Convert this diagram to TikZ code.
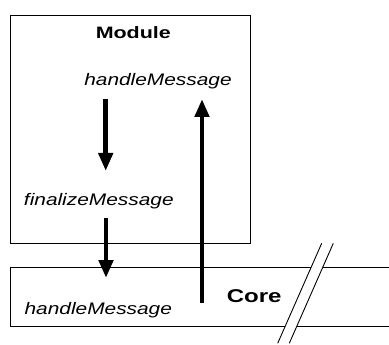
\documentclass[tikz,border=0pt]{standalone}
\usepackage{fontspec}
\setmainfont{Liberation Sans}
\usepackage{graphicx}
\usetikzlibrary{arrows.meta}
\begin{document}
\begin{tikzpicture}[x=1pt,y=-1pt,
  frame/.style={draw=black,line width=1pt},
  txt/.style={inner sep=0pt,anchor=base},
  method/.style={txt,font=\fontsize{16.7}{19}\selectfont\itshape},
  flow/.style={line width=4.7pt,-{Triangle[width=14pt,length=18pt]}},
  cutline/.style={line width=0.9pt},
]
\useasboundingbox (0,0) rectangle (389,345);

% Module box
\node[frame, minimum width=240pt, minimum height=228pt, anchor=north west, inner sep=0pt] (module) at (10,15) {};

% Core box, open to the right
\draw[frame] (393,267.7) -- (10,267.7) -- (10,326.7) -- (393,326.7);

% break mark across the core box
\coordinate (c1a) at (321.7,243.3);
\coordinate (c1b) at (277.7,343.3);
\coordinate (c2a) at (333.3,243.3);
\coordinate (c2b) at (289.3,343.3);
\fill[white] (313.5,262) -- (325.1,262) -- (294.3,332) -- (282.7,332) -- cycle;
\draw[cutline] (c1a) -- (c1b);
\draw[cutline] (c2a) -- (c2b);

% labels
\node[txt,font=\fontsize{16.5}{19}\selectfont\bfseries] (modtitle) at (133.3,38.3) {\scalebox{1.3}[1]{Module}};
\node[method] (hmtop) at (158,86) {\scalebox{1.25}[1]{handleMessage}};
\node[method] (fin) at (98.8,206) {\scalebox{1.25}[1]{finalizeMessage}};
\node[method] (hmcore) at (98.3,314) {\scalebox{1.25}[1]{handleMessage}};
\node[txt,font=\fontsize{18.5}{21}\selectfont\bfseries] (core) at (254.2,302.7) {\scalebox{1.3}[1]{Core}};

% message flow
\coordinate (d1s) at (105.7,99.3);
\coordinate (d1e) at (105.7,171);
\coordinate (d2s) at (106,218);
\coordinate (d2e) at (106,278);
\coordinate (us) at (202,302.7);
\coordinate (ue) at (202,99);
\draw[flow] (d1s) -- (d1e);
\draw[flow] (d2s) -- (d2e);
\draw[flow] (us) -- (ue);
\end{tikzpicture}
\end{document}
